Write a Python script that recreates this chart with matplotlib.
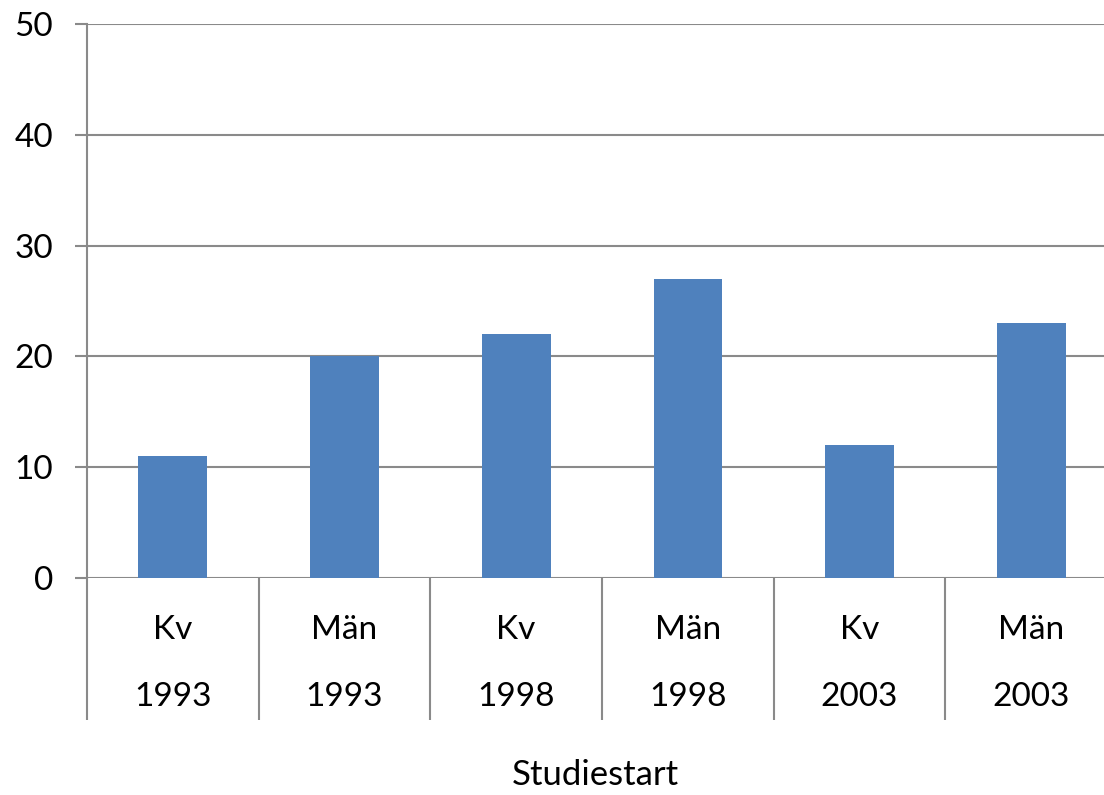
import matplotlib
matplotlib.use('Agg')
import matplotlib.pyplot as plt

groups = ["Kv", "Män", "Kv", "Män", "Kv", "Män"]
years = ["1993", "1993", "1998", "1998", "2003", "2003"]
values = [11, 20, 22, 27, 12, 23]
yticks = [0, 10, 20, 30, 40, 50]

plt.rcParams['font.family'] = ['Lato', 'DejaVu Sans']
grey = '#8a8a8a'

fig = plt.figure(figsize=(11.04, 7.95), dpi=100)
ax = fig.add_axes([87 / 1104, (795 - 578) / 795, 1030 / 1104, 554 / 795])

x = list(range(len(values)))
ax.bar(x, values, width=0.4, color='#4F81BD', zorder=3)

ax.set_xlim(-0.5, len(values) - 0.5)
ax.set_ylim(0, 50)
ax.set_yticks(yticks)
ax.tick_params(axis='y', length=8.5, width=1.5, color=grey, pad=16, labelsize=24)
ax.grid(axis='y', color=grey, linewidth=1.5, zorder=0)
ax.set_xticks([])

for s in ['top', 'right', 'bottom']:
    ax.spines[s].set_visible(False)
ax.spines['left'].set_color(grey)
ax.spines['left'].set_linewidth(1.5)

trans = ax.get_xaxis_transform()
for i in x:
    ax.text(i, -0.094, groups[i], transform=trans, ha='center', va='center', fontsize=24)
    ax.text(i, -0.215, years[i], transform=trans, ha='center', va='center', fontsize=24)

bounds = [i - 0.5 for i in range(len(values) + 1)]
ax.vlines(bounds, -0.256, 0, transform=trans, colors=grey, linewidth=1.5, clip_on=False)

fig.text(595 / 1104, 1 - 775 / 795, "Studiestart", ha='center', va='center', fontsize=25)

fig.savefig('out.png', dpi=100)
